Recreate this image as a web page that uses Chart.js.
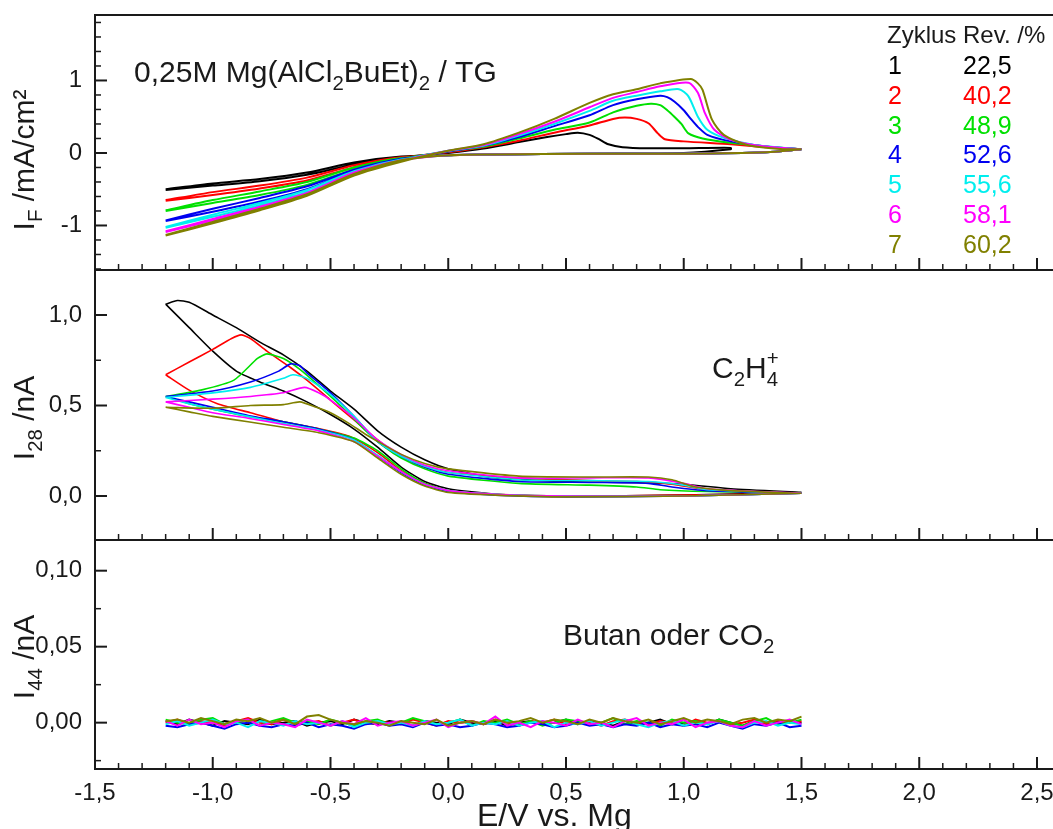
<!DOCTYPE html>
<html>
<head>
<meta charset="utf-8">
<title>DEMS – Mg(AlCl2BuEt)2 / TG</title>
<script src="https://cdn.jsdelivr.net/npm/chart.js@4.4.1/dist/chart.umd.min.js"></script>
<style>
  html, body { margin: 0; padding: 0; background: #fff; }
  #wrap { position: relative; width: 1053px; height: 829px; overflow: hidden; }
</style>
</head>
<body>
<div id="wrap"><canvas id="demsChart" width="1053" height="829"></canvas></div>
<script>
// Achsen-Ticks
const xTicks = [-1.5, -1.0, -0.5, 0.0, 0.5, 1.0, 1.5, 2.0, 2.5];
const xTickLabels = ['-1,5', '-1,0', '-0,5', '0,0', '0,5', '1,0', '1,5', '2,0', '2,5'];
const ifTicks = [-1, 0, 1];
const ifTickLabels = ['-1', '0', '1'];
const i28Ticks = [0, 0.5, 1.0];
const i28TickLabels = ['0,0', '0,5', '1,0'];
const i44Ticks = [0, 0.05, 0.10];
const i44TickLabels = ['0,00', '0,05', '0,10'];

// Legende: Zyklus / Reversibilitaet
const zyklen = ['1', '2', '3', '4', '5', '6', '7'];
const revProzent = ['22,5', '40,2', '48,9', '52,6', '55,6', '58,1', '60,2'];
const farben = ['#000000', '#ff0000', '#00e000', '#0000f0', '#00eeee', '#ff00ff', '#808000'];

// Faradayscher Strom I_F [mA/cm2], je Zyklus: Hinlauf bis Umkehrpunkt, dann Ruecklauf  ([E, I])
const IF_1 = [[-1.2,-0.51],[-1.0,-0.45],[-0.8,-0.39],[-0.6,-0.30],[-0.4,-0.16],[-0.2,-0.06],[0.0,0.0],[0.15,0.06],[0.3,0.15],[0.42,0.22],[0.5,0.26],[0.55,0.28],[0.6,0.25],[0.64,0.19],[0.68,0.12],[0.74,0.08],[0.85,0.065],[1.0,0.065],[1.2,0.07],
              [1.2,0.05],[1.0,0.0],[0.6,-0.01],[0.2,-0.02],[0.0,-0.03],[-0.2,-0.05],[-0.4,-0.13],[-0.6,-0.27],[-0.8,-0.36],[-1.0,-0.42],[-1.2,-0.50]];
const IF_2 = [[-1.2,-0.66],[-1.0,-0.58],[-0.8,-0.49],[-0.6,-0.38],[-0.4,-0.20],[-0.2,-0.07],[0.0,0.01],[0.15,0.08],[0.3,0.17],[0.45,0.28],[0.6,0.38],[0.7,0.47],[0.75,0.49],[0.8,0.47],[0.85,0.41],[0.89,0.27],[0.92,0.19],[1.0,0.16],[1.2,0.12],[1.35,0.08],[1.5,0.05],
              [1.5,0.05],[1.35,0.01],[1.0,-0.01],[0.6,-0.01],[0.2,-0.02],[0.0,-0.03],[-0.2,-0.06],[-0.4,-0.17],[-0.6,-0.34],[-0.8,-0.45],[-1.0,-0.54],[-1.2,-0.65]];
const IF_3 = [[-1.2,-0.80],[-1.0,-0.69],[-0.8,-0.58],[-0.6,-0.44],[-0.4,-0.23],[-0.2,-0.08],[0.0,0.02],[0.15,0.09],[0.3,0.20],[0.45,0.32],[0.6,0.42],[0.7,0.56],[0.8,0.65],[0.86,0.68],[0.9,0.66],[0.93,0.59],[0.96,0.50],[0.99,0.40],[1.02,0.27],[1.08,0.20],[1.2,0.14],[1.35,0.09],[1.5,0.05],
              [1.5,0.05],[1.35,0.01],[1.0,-0.01],[0.6,-0.01],[0.2,-0.02],[0.0,-0.03],[-0.2,-0.07],[-0.4,-0.20],[-0.6,-0.40],[-0.8,-0.53],[-1.0,-0.65],[-1.2,-0.79]];
const IF_4 = [[-1.2,-0.94],[-1.0,-0.81],[-0.8,-0.67],[-0.6,-0.50],[-0.4,-0.25],[-0.2,-0.09],[0.0,0.02],[0.15,0.10],[0.3,0.22],[0.45,0.37],[0.6,0.52],[0.7,0.66],[0.8,0.74],[0.9,0.79],[0.93,0.77],[0.96,0.71],[1.0,0.59],[1.03,0.47],[1.06,0.36],[1.1,0.25],[1.2,0.16],[1.35,0.09],[1.5,0.05],
              [1.5,0.05],[1.35,0.01],[1.0,-0.01],[0.6,-0.01],[0.2,-0.02],[0.0,-0.03],[-0.2,-0.08],[-0.4,-0.23],[-0.6,-0.46],[-0.8,-0.62],[-1.0,-0.77],[-1.2,-0.93]];
const IF_5 = [[-1.2,-1.03],[-1.0,-0.88],[-0.8,-0.72],[-0.6,-0.54],[-0.4,-0.27],[-0.2,-0.10],[0.0,0.03],[0.15,0.10],[0.3,0.24],[0.45,0.40],[0.6,0.58],[0.7,0.72],[0.8,0.79],[0.9,0.85],[0.98,0.88],[1.02,0.78],[1.06,0.50],[1.1,0.32],[1.17,0.21],[1.3,0.11],[1.5,0.05],
              [1.5,0.05],[1.35,0.01],[1.0,-0.01],[0.6,-0.01],[0.2,-0.02],[0.0,-0.03],[-0.2,-0.09],[-0.4,-0.25],[-0.6,-0.51],[-0.8,-0.69],[-1.0,-0.85],[-1.2,-1.02]];
const IF_6 = [[-1.2,-1.09],[-1.0,-0.93],[-0.8,-0.76],[-0.6,-0.57],[-0.4,-0.29],[-0.2,-0.11],[0.0,0.03],[0.15,0.11],[0.3,0.26],[0.45,0.43],[0.6,0.63],[0.7,0.76],[0.8,0.84],[0.9,0.92],[1.02,0.97],[1.06,0.83],[1.09,0.55],[1.13,0.32],[1.2,0.18],[1.32,0.10],[1.5,0.05],
              [1.5,0.05],[1.35,0.01],[1.0,-0.01],[0.6,-0.01],[0.2,-0.02],[0.0,-0.03],[-0.2,-0.10],[-0.4,-0.27],[-0.6,-0.55],[-0.8,-0.74],[-1.0,-0.91],[-1.2,-1.08]];
const IF_7 = [[-1.2,-1.14],[-1.0,-0.97],[-0.8,-0.79],[-0.6,-0.59],[-0.4,-0.31],[-0.2,-0.12],[0.0,0.03],[0.15,0.12],[0.3,0.28],[0.45,0.47],[0.6,0.69],[0.7,0.81],[0.8,0.88],[0.9,0.96],[1.03,1.02],[1.06,0.96],[1.08,0.87],[1.12,0.46],[1.17,0.25],[1.27,0.11],[1.41,0.055],[1.5,0.05],
              [1.5,0.05],[1.35,0.01],[1.0,-0.01],[0.6,-0.01],[0.2,-0.02],[0.0,-0.03],[-0.2,-0.10],[-0.4,-0.29],[-0.6,-0.57],[-0.8,-0.77],[-1.0,-0.95],[-1.2,-1.13]];

// Ionenstrom m/z 28 (C2H4+) [nA]
const I28_1 = [[-1.2,1.06],[-1.15,1.08],[-1.1,1.07],[-1.0,1.0],[-0.9,0.93],[-0.8,0.85],[-0.7,0.78],[-0.6,0.69],[-0.5,0.58],[-0.4,0.48],[-0.3,0.36],[-0.2,0.27],[-0.1,0.20],[0.0,0.15],[0.2,0.10],[0.5,0.08],[0.8,0.075],[1.0,0.065],[1.2,0.04],[1.5,0.02],
               [1.5,0.02],[1.0,0.005],[0.5,0.0],[0.2,0.01],[0.0,0.04],[-0.1,0.08],[-0.2,0.16],[-0.3,0.27],[-0.4,0.37],[-0.5,0.45],[-0.6,0.52],[-0.7,0.58],[-0.8,0.63],[-0.9,0.69],[-1.0,0.80],[-1.1,0.93],[-1.2,1.06]];
const I28_2 = [[-1.2,0.67],[-1.1,0.74],[-1.0,0.81],[-0.92,0.87],[-0.88,0.89],[-0.84,0.87],[-0.77,0.80],[-0.67,0.71],[-0.6,0.64],[-0.5,0.53],[-0.4,0.42],[-0.3,0.31],[-0.2,0.22],[-0.1,0.16],[0.0,0.13],[0.3,0.10],[0.6,0.085],[0.8,0.08],[0.95,0.065],[1.1,0.035],[1.5,0.015],
               [1.5,0.015],[1.0,0.005],[0.5,0.0],[0.2,0.01],[0.0,0.03],[-0.1,0.07],[-0.2,0.14],[-0.3,0.24],[-0.42,0.33],[-0.56,0.375],[-0.7,0.41],[-0.84,0.46],[-0.98,0.51],[-1.1,0.585],[-1.2,0.67]];
const I28_3 = [[-1.2,0.55],[-1.05,0.585],[-0.91,0.64],[-0.81,0.76],[-0.77,0.785],[-0.7,0.76],[-0.63,0.70],[-0.55,0.61],[-0.45,0.49],[-0.35,0.36],[-0.27,0.27],[-0.2,0.21],[-0.1,0.15],[0.0,0.11],[0.3,0.07],[0.6,0.06],[0.8,0.05],[0.9,0.035],[1.1,0.025],[1.5,0.015],
               [1.5,0.015],[1.0,0.0],[0.5,0.0],[0.2,0.01],[0.0,0.03],[-0.1,0.07],[-0.2,0.15],[-0.3,0.25],[-0.4,0.32],[-0.55,0.37],[-0.7,0.41],[-0.85,0.44],[-1.0,0.48],[-1.1,0.51],[-1.2,0.55]];
const I28_4 = [[-1.2,0.55],[-1.0,0.58],[-0.84,0.63],[-0.72,0.69],[-0.67,0.73],[-0.63,0.72],[-0.6,0.68],[-0.5,0.57],[-0.4,0.44],[-0.3,0.30],[-0.2,0.22],[-0.1,0.16],[0.0,0.12],[0.3,0.08],[0.6,0.075],[0.85,0.07],[0.95,0.05],[1.1,0.03],[1.5,0.015],
               [1.5,0.015],[1.0,0.0],[0.5,-0.005],[0.2,0.005],[0.0,0.025],[-0.1,0.06],[-0.2,0.13],[-0.3,0.22],[-0.4,0.31],[-0.55,0.37],[-0.7,0.41],[-0.85,0.445],[-1.0,0.49],[-1.1,0.52],[-1.2,0.55]];
const I28_5 = [[-1.2,0.545],[-1.0,0.57],[-0.84,0.60],[-0.7,0.65],[-0.66,0.67],[-0.6,0.65],[-0.5,0.56],[-0.4,0.44],[-0.3,0.30],[-0.2,0.22],[-0.1,0.165],[0.0,0.13],[0.3,0.09],[0.6,0.085],[0.85,0.08],[1.0,0.06],[1.1,0.035],[1.5,0.015],
               [1.5,0.015],[1.0,0.0],[0.5,0.0],[0.2,0.01],[0.0,0.03],[-0.1,0.065],[-0.2,0.135],[-0.3,0.225],[-0.4,0.31],[-0.55,0.365],[-0.7,0.40],[-0.85,0.44],[-1.0,0.48],[-1.1,0.51],[-1.2,0.545]];
const I28_6 = [[-1.2,0.52],[-1.0,0.535],[-0.84,0.55],[-0.7,0.57],[-0.61,0.60],[-0.55,0.57],[-0.5,0.53],[-0.4,0.43],[-0.3,0.31],[-0.2,0.23],[-0.1,0.17],[0.0,0.14],[0.3,0.10],[0.6,0.10],[0.85,0.10],[1.0,0.07],[1.1,0.04],[1.5,0.015],
               [1.5,0.015],[1.0,0.0],[0.5,0.0],[0.2,0.01],[0.0,0.03],[-0.1,0.065],[-0.2,0.135],[-0.3,0.22],[-0.4,0.30],[-0.55,0.36],[-0.7,0.395],[-0.85,0.43],[-1.0,0.46],[-1.1,0.49],[-1.2,0.52]];
const I28_7 = [[-1.2,0.49],[-1.0,0.485],[-0.84,0.50],[-0.7,0.505],[-0.63,0.52],[-0.56,0.49],[-0.5,0.46],[-0.42,0.40],[-0.35,0.34],[-0.27,0.28],[-0.2,0.23],[-0.1,0.18],[0.0,0.15],[0.3,0.11],[0.6,0.105],[0.85,0.105],[0.95,0.09],[1.05,0.05],[1.2,0.03],[1.5,0.015],
               [1.5,0.015],[1.0,0.0],[0.5,-0.005],[0.2,0.005],[0.0,0.02],[-0.1,0.055],[-0.2,0.12],[-0.3,0.21],[-0.4,0.30],[-0.55,0.35],[-0.7,0.38],[-0.85,0.41],[-1.0,0.44],[-1.1,0.465],[-1.2,0.49]];

// Ionenstrom m/z 44 (Butan oder CO2) [nA] - nur Rauschen um 0
const E44 = [-1.2,-1.15,-1.1,-1.05,-1.0,-0.95,-0.9,-0.85,-0.8,-0.75,-0.7,-0.65,-0.6,-0.55,-0.5,-0.45,-0.4,-0.35,-0.3,-0.25,-0.2,-0.15,-0.1,-0.05,0.0,0.05,0.1,0.15,0.2,0.25,0.3,0.35,0.4,0.45,0.5,0.55,0.6,0.65,0.7,0.75,0.8,0.85,0.9,0.95,1.0,1.05,1.1,1.15,1.2,1.25,1.3,1.35,1.4,1.45,1.5];
const I44_1 = [0.001,-0.001,0.002,0.000,-0.002,0.001,0.000,-0.001,0.002,-0.001,0.000,0.001,-0.002,0.000,0.001,-0.001,0.002,0.000,-0.001,0.001,0.000,-0.002,0.001,0.000,-0.001,0.002,0.000,-0.001,0.001,-0.002,0.000,0.001,-0.001,0.000,0.002,-0.001,0.001,0.000,-0.002,0.001,-0.001,0.000,0.002,-0.001,0.000,0.001,-0.001,0.002,0.000,-0.002,0.001,0.000,-0.001,0.001,0.000];
const I44_2 = [0.000,0.002,-0.001,0.001,0.000,-0.002,0.001,0.003,0.000,-0.001,0.002,-0.001,0.000,0.001,-0.002,0.000,0.002,-0.001,0.001,0.000,-0.001,0.002,0.000,-0.002,0.001,0.000,0.001,-0.001,0.002,0.000,-0.002,0.001,0.000,0.002,-0.001,0.001,0.000,-0.002,0.001,0.002,0.000,-0.001,0.001,0.000,-0.002,0.002,0.000,0.001,-0.001,0.000,0.002,-0.001,0.001,0.000,0.001];
const I44_3 = [0.002,0.000,-0.001,0.002,0.003,-0.001,0.000,0.002,-0.002,0.001,0.003,0.000,0.001,-0.001,0.002,0.000,-0.002,0.001,0.002,-0.001,0.000,0.003,0.001,-0.001,0.000,0.002,-0.002,0.001,0.000,0.002,-0.001,0.001,-0.002,0.000,0.002,0.001,-0.001,0.000,0.003,-0.001,0.001,0.000,-0.002,0.002,0.000,0.001,-0.001,0.002,0.000,-0.002,0.001,0.003,-0.001,0.000,0.002];
const I44_4 = [-0.002,-0.003,-0.001,0.000,-0.002,-0.004,-0.001,0.000,-0.002,-0.003,-0.001,-0.002,0.000,-0.003,-0.001,-0.002,-0.004,-0.001,0.000,-0.002,-0.001,-0.003,0.000,-0.002,-0.001,-0.003,-0.002,0.000,-0.001,-0.003,-0.002,0.000,-0.001,-0.003,-0.002,0.000,-0.002,-0.001,-0.003,-0.001,-0.002,0.000,-0.003,-0.001,-0.002,-0.001,-0.003,0.000,-0.002,-0.004,-0.001,-0.002,0.000,-0.003,-0.002];
const I44_5 = [-0.001,0.001,-0.002,0.000,0.002,-0.001,0.000,-0.003,0.001,0.000,-0.002,0.001,-0.001,0.000,-0.002,0.001,-0.003,0.000,0.001,-0.001,0.000,-0.002,0.001,-0.001,0.000,0.002,-0.002,0.000,-0.001,0.001,-0.002,0.000,0.001,-0.003,0.000,-0.001,0.001,-0.002,0.000,0.002,-0.001,-0.003,0.000,0.001,-0.002,0.000,-0.001,0.001,-0.002,-0.003,0.000,0.001,-0.002,0.000,-0.001];
const I44_6 = [0.001,-0.002,0.002,-0.001,0.000,-0.003,0.001,0.002,-0.002,0.000,-0.001,-0.003,0.002,0.000,-0.002,0.001,-0.001,0.003,-0.002,0.000,0.001,-0.002,0.000,0.002,-0.003,0.000,0.001,-0.001,0.004,-0.002,0.000,-0.003,0.001,0.000,-0.002,0.002,-0.001,0.000,-0.003,0.001,0.003,-0.002,0.000,-0.001,0.002,-0.003,0.000,0.001,-0.002,-0.003,0.001,-0.002,0.000,0.002,-0.001];
const I44_7 = [0.001,0.002,0.000,0.003,0.001,-0.001,0.002,0.001,0.003,0.000,0.002,-0.001,0.004,0.005,0.002,0.000,-0.001,0.001,0.000,-0.002,0.001,0.000,-0.001,0.002,-0.002,0.000,0.001,-0.001,0.002,0.000,0.001,0.003,0.000,0.002,0.001,-0.001,0.002,0.000,0.003,0.001,0.000,0.002,-0.001,0.001,0.003,0.000,0.002,0.001,-0.001,0.002,0.003,0.000,0.002,0.001,0.004];

const ifData = [IF_1, IF_2, IF_3, IF_4, IF_5, IF_6, IF_7];
const i28Data = [I28_1, I28_2, I28_3, I28_4, I28_5, I28_6, I28_7];
const i44Data = [I44_1, I44_2, I44_3, I44_4, I44_5, I44_6, I44_7];

const FONT = "'Liberation Sans', Arial, sans-serif";
const INK = '#1a1a1a';
Chart.defaults.font.family = FONT;
Chart.defaults.color = INK;

function toPoints(pairs) {
    return pairs.map(p => ({ x: p[0], y: p[1] }));
}

// Zyklus 7 zuerst -> wird zuletzt (oben) gezeichnet
const datasets = [];
for (let c = zyklen.length - 1; c >= 0; c--) {
    const common = { borderColor: farben[c], showLine: true, pointRadius: 0, fill: false };
    datasets.push(Object.assign({ label: 'I_F Zyklus ' + zyklen[c], data: toPoints(ifData[c]), yAxisID: 'y', borderWidth: 2, tension: 0.25 }, common));
    datasets.push(Object.assign({ label: 'I_28 Zyklus ' + zyklen[c], data: toPoints(i28Data[c]), yAxisID: 'y28', borderWidth: 1.6, tension: 0.2 }, common));
    datasets.push(Object.assign({ label: 'I_44 Zyklus ' + zyklen[c], data: E44.map((e, i) => ({ x: e, y: i44Data[c][i] })), yAxisID: 'y44', borderWidth: 2, tension: 0 }, common));
}

function panelScale(min, max, weight, stackWeight, ticks, labels, minorStep) {
    return {
        type: 'linear', position: 'left', stack: 'panels', weight: weight, stackWeight: stackWeight,
        min: min, max: max, minorStep: minorStep,
        grid: { display: false, drawTicks: false },
        border: { display: false },
        ticks: { font: { size: 24 }, padding: 13, callback: (v, i) => labels[i] },
        afterBuildTicks: s => { s.ticks = ticks.map(v => ({ value: v })); },
        afterFit: s => { s.width = 95; s.paddingTop = 0; s.paddingBottom = 0; }
    };
}

// Texte mit Indizes
function richWidth(ctx, parts, size) {
    let w = 0;
    parts.forEach(p => {
        ctx.font = ((p.sub || p.sup) ? size * 0.68 : size) + 'px ' + FONT;
        if (!p.stack) w += ctx.measureText(p.t).width;
    });
    return w;
}
function drawRich(ctx, parts, x, y, size, color) {
    ctx.fillStyle = color;
    ctx.textAlign = 'left';
    ctx.textBaseline = 'alphabetic';
    let cx = x, lastX = x;
    parts.forEach(p => {
        ctx.font = ((p.sub || p.sup) ? size * 0.68 : size) + 'px ' + FONT;
        const dy = p.sub ? size * 0.27 : (p.sup ? -size * 0.42 : 0);
        ctx.fillText(p.t, p.stack ? lastX : cx, y + dy);
        if (!p.stack) { lastX = cx; cx += ctx.measureText(p.t).width; }
    });
}

const titleIF = [{ t: 'I' }, { t: 'F', sub: true }, { t: ' /mA/cm²' }];
const title28 = [{ t: 'I' }, { t: '28', sub: true }, { t: ' /nA' }];
const title44 = [{ t: 'I' }, { t: '44', sub: true }, { t: ' /nA' }];
const labelSystem = [{ t: '0,25M Mg(AlCl' }, { t: '2', sub: true }, { t: 'BuEt)' }, { t: '2', sub: true }, { t: ' / TG' }];
const labelC2H4 = [{ t: 'C' }, { t: '2', sub: true }, { t: 'H' }, { t: '4', sub: true }, { t: '+', sup: true, stack: true }];
const labelButan = [{ t: 'Butan oder CO' }, { t: '2', sub: true }];

const framePlugin = {
    id: 'framePlugin',
    afterDraw(chart) {
        const ctx = chart.ctx;
        const xs = chart.scales.x;
        const left = chart.chartArea.left, right = chart.chartArea.right;
        const panels = [chart.scales.y, chart.scales.y28, chart.scales.y44];
        ctx.save();
        ctx.strokeStyle = INK;
        ctx.lineCap = 'butt';
        const seg = (x1, y1, x2, y2, w) => { ctx.lineWidth = w; ctx.beginPath(); ctx.moveTo(x1, y1); ctx.lineTo(x2, y2); ctx.stroke(); };

        seg(left, panels[0].top, right, panels[0].top, 2);
        seg(left, panels[0].top - 1, left, panels[2].bottom + 1, 2);
        panels.forEach(p => {
            seg(left, p.bottom, right, p.bottom, 2);
            // x-Ticks nach innen
            for (let k = -15; k <= 25; k++) {
                const px = xs.getPixelForValue(k / 10);
                if (px <= left + 1 || px > right) continue;
                const len = (k % 5 === 0) ? 12 : 6;
                seg(px, p.bottom, px, p.bottom - len, k % 5 === 0 ? 2 : 1.5);
            }
            // y-Ticks nach innen
            const step = p.options.minorStep;
            for (let k = Math.ceil(p.min / step); k * step <= p.max + 1e-9; k++) {
                const v = k * step;
                const isMajor = p.ticks.some(t => Math.abs(t.value - v) < 1e-9);
                const py = p.getPixelForValue(v);
                if (py <= p.top + 1 || py >= p.bottom - 1) continue;
                seg(left, py, left + (isMajor ? 12 : 6), py, isMajor ? 2 : 1.5);
            }
        });

        // Achsentitel (gedreht)
        [[titleIF, 160], [title28, 418], [title44, 657]].forEach(([parts, cy]) => {
            ctx.save();
            ctx.translate(34, cy);
            ctx.rotate(-Math.PI / 2);
            drawRich(ctx, parts, -richWidth(ctx, parts, 30) / 2, 0, 30, INK);
            ctx.restore();
        });
        drawRich(ctx, [{ t: 'E/V vs. Mg' }], 477, 826, 32, INK);

        // Beschriftungen in den Panels
        drawRich(ctx, labelSystem, 134, 82, 30, INK);
        drawRich(ctx, labelC2H4, 712, 378, 30, INK);
        drawRich(ctx, labelButan, 563, 645, 30, INK);

        // Legende
        drawRich(ctx, [{ t: 'Zyklus Rev. /%' }], 887, 43, 24, INK);
        zyklen.forEach((z, i) => {
            const by = 74 + i * 29.8;
            drawRich(ctx, [{ t: z }], 888, by, 25, farben[i]);
            drawRich(ctx, [{ t: revProzent[i] }], 963, by, 25, farben[i]);
        });
        ctx.restore();
    }
};

new Chart(document.getElementById('demsChart'), {
    type: 'scatter',
    data: { datasets: datasets },
    options: {
        responsive: false,
        devicePixelRatio: 1,
        animation: false,
        layout: { padding: { top: 15, left: 0, right: 0, bottom: 0 } },
        plugins: { legend: { display: false }, tooltip: { enabled: false } },
        scales: {
            x: {
                type: 'linear', position: 'bottom', min: -1.5, max: 2.568,
                grid: { display: false, drawTicks: false },
                border: { display: false },
                ticks: { font: { size: 24 }, padding: 10, autoSkip: false, maxRotation: 0, callback: (v, i) => xTickLabels[i] },
                afterBuildTicks: s => { s.ticks = xTicks.map(v => ({ value: v })); },
                afterFit: s => { s.height = 60; s.paddingLeft = 0; s.paddingRight = 0; }
            },
            y: panelScale(-1.614, 1.903, 3, 255, ifTicks, ifTickLabels, 0.2),
            y28: panelScale(-0.243, 1.2486, 2, 270, i28Ticks, i28TickLabels, 0.25),
            y44: panelScale(-0.0305, 0.1202, 1, 229, i44Ticks, i44TickLabels, 0.025)
        }
    },
    plugins: [framePlugin]
});
</script>
</body>
</html>
